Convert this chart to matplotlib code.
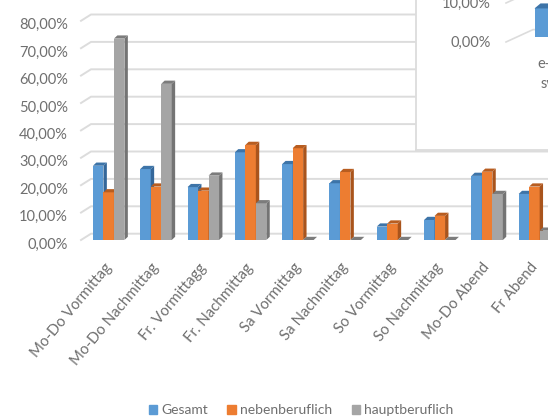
import matplotlib
matplotlib.use("Agg")
import matplotlib.pyplot as plt
from matplotlib.patches import Rectangle
from matplotlib.transforms import ScaledTranslation

plt.rcParams['font.family'] = ['Lato', 'DejaVu Sans']

categories = ["Mo-Do Vormittag", "Mo-Do Nachmittag", "Fr. Vormittagg", "Fr. Nachmittag",
              "Sa Vormittag", "Sa Nachmittag", "So Vormittag", "So Nachmittag",
              "Mo-Do Abend", "Fr Abend"]
gesamt = [27.1, 25.9, 19.3, 32.0, 27.7, 20.7, 4.9, 7.3, 23.4, 16.8]
neben = [17.4, 19.5, 18.0, 34.7, 33.5, 24.8, 6.0, 8.8, 24.9, 19.5]
haupt = [73.5, 57.0, 23.5, 13.4, 0.0, 0.0, 0.0, 0.0, 16.8, 3.4]
y_ticks = [0, 10, 20, 30, 40, 50, 60, 70, 80]
inset_ticks = [0, 10]
inset_value = [7.2]

W, H = 548, 418
TEXT = '#6f6f6f'
GRID = '#dcdcdc'
PX_X = 47.3   # pixels per category
PX_Y = 2.74   # pixels per percent


def draw_bar(a, x0, width, v, col, side, top, dx, dy, z):
    x1 = x0 + width
    a.bar(x0, v, width, align='edge', color=col, zorder=z)
    a.fill([x1, x1 + dx, x1 + dx, x1], [0, dy, v + dy, v], color=side, lw=0, zorder=z)
    a.fill([x0, x1, x1 + dx, x0 + dx], [v, v, v + dy, v + dy], color=top, lw=0, zorder=z)


fig = plt.figure(figsize=(W / 100, H / 100), dpi=100)
ax = fig.add_axes([81 / W, (H - 240) / H, (W - 81) / W, 240 / H])
ax.set_xlim((81 - 108.7) / PX_X, (W - 108.7) / PX_X)
ax.set_ylim(0, 240 / PX_Y)
for s in ax.spines.values():
    s.set_visible(False)

# gridlines on the back wall plus the short diagonal on the left
back_x = 10 / PX_X
back_y = 6.3 / PX_Y
x_left = ax.get_xlim()[0]
for t in y_ticks:
    ax.plot([x_left, x_left + back_x, ax.get_xlim()[1]], [t, t + back_y, t + back_y],
            color=GRID, lw=1.4, zorder=1, clip_on=False)

series = [(gesamt, '#5b9bd5', '#34679a', '#3d74a8'),
          (neben, '#ed7d31', '#a9541c', '#b85d20'),
          (haupt, '#a5a5a5', '#747474', '#7c7c7c')]
bar_w = 10.5 / PX_X
dx = 3.4 / PX_X
dy = 3.2 / PX_Y
for i, (vals, col, side, top) in enumerate(series):
    for j, v in enumerate(vals):
        draw_bar(ax, j + (i - 1.5) * bar_w, bar_w, v, col, side, top, dx, dy, 3 + i)

ax.set_yticks(y_ticks)
ax.set_yticklabels(["{:.2f}%".format(t).replace(".", ",") for t in y_ticks],
                   fontsize=10.5, color=TEXT)
ax.set_xticks(range(len(categories)))
ax.set_xticklabels(categories, fontsize=10.8, color=TEXT, rotation=50, ha='right',
                   rotation_mode='anchor')
ax.tick_params(axis='y', length=0, pad=9.5)
ax.tick_params(axis='x', length=0, pad=17)

# labels sit a little off the tick positions in the original
for lab in ax.get_yticklabels():
    lab.set_transform(lab.get_transform() + ScaledTranslation(0, -3 / 100, fig.dpi_scale_trans))
for lab in ax.get_xticklabels():
    lab.set_transform(lab.get_transform() + ScaledTranslation(-5 / 100, 3 / 100, fig.dpi_scale_trans))

handles = [Rectangle((0, 0), 1, 1, color=s[1]) for s in series]
fig.legend(handles, ["Gesamt", "nebenberuflich", "hauptberuflich"], ncol=3, frameon=False,
           loc='center', bbox_to_anchor=(301 / W, (H - 410.5) / H), fontsize=10,
           labelcolor=TEXT, handlelength=0.6, handleheight=0.6, handletextpad=0.3,
           columnspacing=1.4)

# second chart lying over the upper right corner
inset = fig.add_axes([416 / W, (H - 150) / H, (W - 416) / W, 150 / H], facecolor='white', zorder=5)
IN_Y = 3.9
inset.set_xlim(0, W - 416)
inset.set_ylim((36.5 - 150) / IN_Y, 36.5 / IN_Y)
for name, s in inset.spines.items():
    s.set_visible(name in ('left', 'bottom'))
    s.set_color(GRID)
    s.set_linewidth(1.3)
for t in inset_ticks:
    inset.plot([90, 117, 132], [t - 5.5 / IN_Y, t + 12 / IN_Y - 5.5 / IN_Y + 0.1, t + 12 / IN_Y - 5.5 / IN_Y + 0.1],
               color=GRID, lw=1.2, zorder=1)
    inset.text(75, t - 6 / IN_Y, "{:.2f}%".format(t).replace(".", ","), ha='right', va='center',
               fontsize=10.5, color=TEXT)
draw_bar(inset, 118.5, 30, inset_value[0], '#5b9bd5', '#34679a', '#3d74a8', 6, 5 / IN_Y, 3)
inset.text(121, -27.5 / IN_Y, "e-", ha='left', va='center', fontsize=10.5, color=TEXT)
inset.text(124.5, -47.5 / IN_Y, "sw", ha='left', va='center', fontsize=10.5, color=TEXT, clip_on=True)
inset.set_xticks([])
inset.set_yticks([])

fig.savefig("out.png", dpi=100)
